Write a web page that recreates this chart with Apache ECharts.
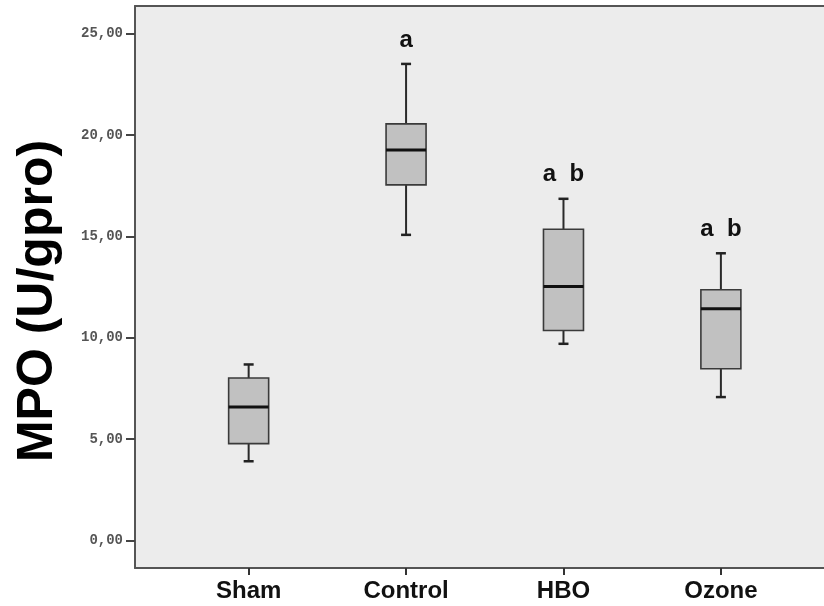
<!DOCTYPE html>
<html>
<head>
<meta charset="utf-8">
<script src="https://cdn.jsdelivr.net/npm/echarts@6/dist/echarts.min.js"></script>
<style>
html,body{margin:0;padding:0;background:#ffffff;}
#chart{width:824px;height:606px;}
</style>
</head>
<body>
<div id="chart"></div>
<script>
// ---- data ----
const categories = ['Sham', 'Control', 'HBO', 'Ozone'];
const whiskerLow = [3.90, 15.08, 9.70, 7.07];
const q1         = [4.77, 17.55, 10.36, 8.47];
const median     = [6.58, 19.27, 12.53, 11.43];
const q3         = [8.01, 20.56, 15.36, 12.37];
const whiskerHigh= [8.68, 23.52, 16.86, 14.17];
const letters    = ['', 'a', 'a  b', 'a  b'];
const yTicks     = [0, 5, 10, 15, 20, 25];
const xTicks     = [1, 2, 3, 4];
const yMin = -1.37, yMax = 26.38;
const xMin = 0.278, xMax = 4.655;

const boxData = categories.map((c, i) => [i + 1, whiskerLow[i], q1[i], median[i], q3[i], whiskerHigh[i], i]);

const chart = echarts.init(document.getElementById('chart'), null, {renderer: 'canvas'});

function renderItem(params, api) {
  const x = api.value(0);
  const lo = api.coord([x, api.value(1)]);
  const b1 = api.coord([x, api.value(2)]);
  const md = api.coord([x, api.value(3)]);
  const b3 = api.coord([x, api.value(4)]);
  const hi = api.coord([x, api.value(5)]);
  const idx = api.value(6);
  const hw = 20, cw = 5;
  const cx = lo[0];
  const lineStyle = {stroke: '#2a2a2a', lineWidth: 2};
  const children = [
    {type: 'line', shape: {x1: cx, y1: hi[1], x2: cx, y2: b3[1]}, style: lineStyle},
    {type: 'line', shape: {x1: cx, y1: b1[1], x2: cx, y2: lo[1]}, style: lineStyle},
    {type: 'line', shape: {x1: cx - cw, y1: hi[1], x2: cx + cw, y2: hi[1]}, style: {stroke: '#222', lineWidth: 2.5}},
    {type: 'line', shape: {x1: cx - cw, y1: lo[1], x2: cx + cw, y2: lo[1]}, style: {stroke: '#222', lineWidth: 2.5}},
    {type: 'rect', shape: {x: cx - hw, y: b3[1], width: hw * 2, height: b1[1] - b3[1]},
      style: {fill: '#c1c1c1', stroke: '#3a3a3a', lineWidth: 1.6}},
    {type: 'line', shape: {x1: cx - hw, y1: md[1], x2: cx + hw, y2: md[1]}, style: {stroke: '#111', lineWidth: 3}}
  ];
  if (letters[idx]) {
    children.push({type: 'text', x: cx, y: hi[1] - 12,
      style: {text: letters[idx], fill: '#111', font: 'bold 24px "Liberation Sans", Arial, sans-serif',
        align: 'center', verticalAlign: 'bottom'}});
  }
  return {type: 'group', children: children};
}

chart.setOption({
  backgroundColor: '#ffffff',
  animation: false,
  grid: {left: 135, right: 0, top: 6, bottom: 38, show: true, backgroundColor: '#ececec', borderWidth: 0},
  xAxis: [{
    type: 'value', min: xMin, max: xMax,
    splitLine: {show: false},
    axisLine: {show: true, onZero: false, lineStyle: {color: '#555', width: 2}},
    axisTick: {show: true, length: 7, lineStyle: {color: '#333', width: 2}, customValues: xTicks},
    axisLabel: {customValues: xTicks, margin: 11, color: '#111',
      fontFamily: '"Liberation Sans", Arial, sans-serif', fontWeight: 'bold', fontSize: 24,
      formatter: v => categories[Math.round(v) - 1] || ''}
  }, {
    type: 'value', position: 'top', min: xMin, max: xMax,
    splitLine: {show: false},
    axisLine: {show: true, onZero: false, lineStyle: {color: '#555', width: 2}},
    axisTick: {show: false}, axisLabel: {show: false}
  }],
  yAxis: {
    type: 'value', min: yMin, max: yMax,
    splitLine: {show: false},
    axisLine: {show: true, onZero: false, lineStyle: {color: '#555', width: 2}},
    axisTick: {show: true, length: 9, lineStyle: {color: '#444', width: 2}, customValues: yTicks},
    axisLabel: {customValues: yTicks, margin: 12, color: '#555',
      fontFamily: '"Liberation Mono", "DejaVu Sans Mono", monospace', fontWeight: 'bold', fontSize: 14,
      formatter: v => v.toFixed(2).replace('.', ',')},
    name: 'MPO (U/gpro)', nameLocation: 'middle', nameRotate: 90, nameGap: 72,
    nameTextStyle: {fontFamily: '"Liberation Sans", Arial, sans-serif', fontWeight: 'bold', fontSize: 50,
      color: '#000', padding: [0, 28, 0, 0]}
  },
  series: [{
    type: 'custom',
    xAxisIndex: 0,
    renderItem: renderItem,
    encode: {x: 0, y: [1, 2, 3, 4, 5]},
    data: boxData,
    clip: false
  }]
});
</script>
</body>
</html>
